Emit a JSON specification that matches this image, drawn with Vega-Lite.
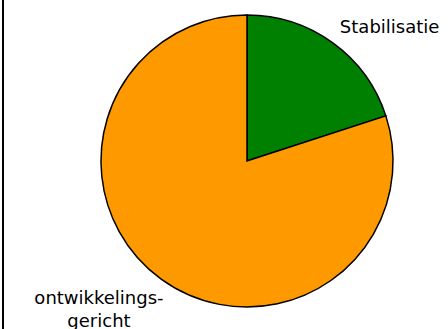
{
  "$schema": "https://vega.github.io/schema/vega-lite/v6.json",
  "width": 488,
  "height": 346,
  "autosize": {"type": "none"},
  "padding": {"left": 3, "top": -12, "right": 0, "bottom": 0},
  "background": "white",
  "view": {"stroke": "black", "strokeWidth": 2},
  "config": {"view": {"stroke": "black", "strokeWidth": 2}},
  "data": {
    "values": [
      {"cat": "Stabilisatie", "value": 20, "order": 1, "label": "Stabilisatie"},
      {"cat": "ontwikkelingsgericht", "value": 80, "order": 2, "label": "ontwikkelings-\ngericht"}
    ]
  },
  "encoding": {
    "theta": {"field": "value", "type": "quantitative", "stack": true},
    "order": {"field": "order", "type": "quantitative"}
  },
  "layer": [
    {
      "mark": {"type": "arc", "outerRadius": 146, "stroke": "black", "strokeWidth": 1.5},
      "encoding": {
        "color": {
          "field": "cat",
          "type": "nominal",
          "scale": {"domain": ["Stabilisatie", "ontwikkelingsgericht"], "range": ["#008000", "#FF9900"]},
          "legend": null
        }
      }
    },
    {
      "mark": {"type": "text", "radius": 158, "align": "left", "baseline": "alphabetic", "font": "DejaVu Sans", "fontSize": 18, "color": "black"},
      "encoding": {
        "detail": {"field": "cat", "type": "nominal"},
        "text": {"condition": {"test": "datum.cat === 'Stabilisatie'", "field": "label"}, "value": ""}
      }
    },
    {
      "mark": {"type": "text", "radius": 177, "dx": -44, "align": "center", "baseline": "alphabetic", "font": "DejaVu Sans", "fontSize": 18, "color": "black", "lineBreak": "\n", "lineHeight": 23},
      "encoding": {
        "detail": {"field": "cat", "type": "nominal"},
        "text": {"condition": {"test": "datum.cat === 'ontwikkelingsgericht'", "field": "label"}, "value": ""}
      }
    }
  ]
}
